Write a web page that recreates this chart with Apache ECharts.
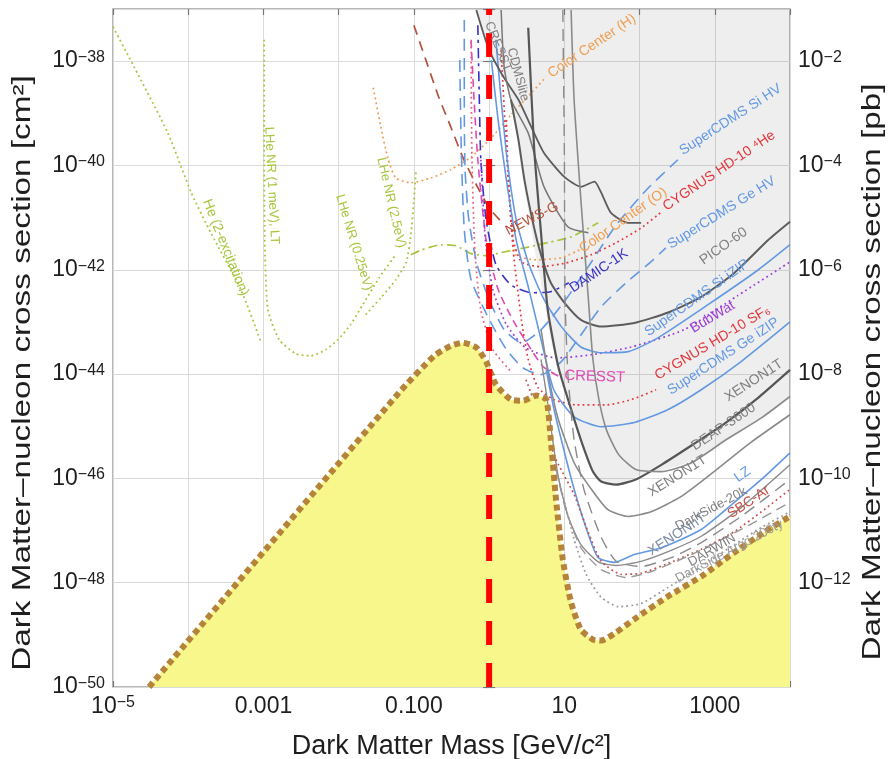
<!DOCTYPE html>
<html>
<head>
<meta charset="utf-8">
<script src="https://cdn.jsdelivr.net/npm/echarts@6/dist/echarts.min.js"></script>
<style>
  html, body { margin: 0; padding: 0; background: #fff; }
  #chart { width: 890px; height: 759px; }
</style>
</head>
<body>
<div id="chart"></div>
<script>
// every curve as [log10 mass (GeV), log10 sigma (cm^2)]
const neutrinoFog = [[-4.52,-50.0],[-1.20,-44.36],[-0.73,-43.65],[-0.51,-43.46],[-0.35,-43.40],[-0.17,-43.49],[-0.04,-43.76],[0.09,-44.20],[0.29,-44.49],[0.45,-44.51],[0.63,-44.41],[0.76,-44.49],[0.82,-45.26],[0.89,-46.41],[0.98,-47.56],[1.09,-48.38],[1.22,-48.90],[1.38,-49.09],[1.49,-49.11],[1.69,-48.95],[1.93,-48.70],[2.38,-48.26],[2.82,-47.88],[3.26,-47.42],[3.71,-46.98],[4.0,-46.73]];
const excludedEdge = [[-0.17,-37.0],[0.0,-37.79],[0.19,-38.30],[0.29,-38.74],[0.36,-39.32],[0.43,-40.08],[0.52,-40.85],[0.63,-41.81],[0.73,-42.57],[0.82,-43.34],[0.92,-43.92],[1.05,-44.49],[1.22,-45.26],[1.38,-45.83],[1.49,-46.06],[1.76,-46.10],[2.02,-45.93],[2.35,-45.83],[2.69,-45.66],[3.15,-45.26],[3.62,-44.84],[4.0,-44.43]];
const oneGeV = [[0, -50], [0, -37]];

const heTwoExc = [[-5.0,-37.34],[-4.72,-38.11],[-4.27,-39.38],[-3.96,-40.52],[-3.70,-41.29],[-3.30,-42.38],[-3.03,-43.40]];
const lheOneMeV = [[-2.99,-37.59],[-2.99,-39.70],[-2.98,-41.62],[-2.94,-42.77],[-2.79,-43.34],[-2.57,-43.61],[-2.37,-43.65],[-2.17,-43.53],[-2.01,-43.34],[-1.84,-43.05],[-1.68,-42.67],[-1.46,-42.15],[-1.24,-41.71]];
const lheTwoHalfEv = [[-1.64,-42.86],[-1.44,-42.54],[-1.24,-42.19],[-1.10,-41.85],[-1.04,-41.33],[-1.0,-40.66],[-0.97,-40.08]];
const greenDashDot = [[-1.04,-41.71],[-0.90,-41.62],[-0.64,-41.52],[-0.44,-41.54],[-0.24,-41.69],[-0.04,-41.73],[0.16,-41.67],[0.47,-41.58],[0.78,-41.48],[1.09,-41.37],[1.45,-41.10]];
const colorCenterH = [[-1.54,-38.51],[-1.44,-39.26],[-1.34,-39.89],[-1.24,-40.24],[-1.04,-40.33],[-0.77,-40.24],[-0.51,-40.08],[-0.24,-39.84],[0.03,-39.47],[0.29,-39.03],[0.56,-38.61],[0.76,-38.30]];
const colorCenterO = [[0.23,-39.70],[0.27,-40.47],[0.31,-41.23],[0.35,-41.71],[0.63,-41.81],[0.96,-41.77],[1.20,-41.62]];
const newsG = [[-1.0,-37.31],[-0.84,-37.98],[-0.68,-38.65],[-0.51,-39.26],[-0.35,-39.84],[-0.17,-40.37],[0.0,-40.81],[0.20,-41.14]];
const damic1k = [[-0.15,-37.31],[-0.13,-38.74],[-0.11,-39.89],[-0.04,-41.04],[0.09,-41.90],[0.29,-42.29],[0.56,-42.44],[0.82,-42.42],[1.06,-42.25]];
const cdmsSiHV = [[-0.33,-37.21],[-0.33,-38.74],[-0.32,-40.08],[-0.27,-41.04],[-0.16,-41.90],[0.0,-42.57],[0.20,-43.15],[0.43,-43.40],[0.69,-43.15],[1.02,-42.57],[1.36,-41.85],[1.69,-41.14],[2.09,-40.47],[2.51,-39.89]];
const cdmsGeHV = [[-0.39,-37.98],[-0.37,-39.70],[-0.33,-41.23],[-0.24,-42.19],[-0.01,-42.92],[0.23,-43.53],[0.45,-43.88],[0.69,-44.01],[0.96,-43.76],[1.22,-43.25],[1.49,-42.71],[1.82,-42.25],[2.15,-41.85],[2.35,-41.58]];
const cresstFuture = [[-0.24,-37.59],[-0.20,-38.74],[-0.15,-39.89],[-0.04,-41.43],[0.12,-42.38],[0.33,-43.00],[0.52,-43.44],[0.72,-43.86],[0.96,-44.07]];
const pinkDotted = [[-0.24,-37.63],[-0.23,-39.70],[-0.19,-41.62],[-0.11,-42.77],[0.05,-43.53],[0.29,-43.95]];
const cygnusHe = [[0.23,-39.13],[0.25,-40.08],[0.28,-40.85],[0.32,-41.43],[0.43,-41.85],[0.69,-41.94],[1.02,-41.87],[1.36,-41.71],[1.69,-41.48],[2.02,-41.20],[2.29,-40.89]];
const cygnusSF6 = [[0.16,-37.79],[0.23,-39.70],[0.32,-41.62],[0.43,-42.96],[0.52,-43.72],[0.65,-44.26],[0.86,-44.49],[1.16,-44.59],[1.56,-44.59],[1.89,-44.49],[2.22,-44.30]];
const bubWat = [[-0.11,-39.89],[-0.05,-41.43],[0.05,-42.38],[0.23,-43.05],[0.49,-43.50],[0.89,-43.69],[1.36,-43.63],[1.89,-43.48],[2.59,-43.15],[3.30,-42.50],[4.0,-41.85]];
const cdmsSiIZIP = [[0.09,-37.59],[0.16,-38.74],[0.24,-39.89],[0.36,-41.04],[0.53,-41.90],[0.73,-42.57],[0.96,-43.09],[1.22,-43.48],[1.49,-43.59],[1.85,-43.57],[2.25,-43.30],[2.91,-42.67],[3.58,-42.00],[4.0,-41.52]];
const cdmsGeIZIP = [[0.03,-37.98],[0.12,-39.13],[0.23,-40.28],[0.36,-41.43],[0.53,-42.38],[0.69,-43.34],[0.86,-44.30],[1.13,-44.82],[1.49,-45.01],[1.93,-44.93],[2.38,-44.68],[2.82,-44.30],[3.35,-43.76],[4.0,-43.00]];
const cresstLimit = [[-0.17,-37.02],[0.0,-37.79],[0.19,-38.30],[0.39,-38.74],[0.56,-39.26],[0.73,-39.76],[1.0,-40.22],[1.22,-40.41],[1.40,-40.31],[1.49,-40.52],[1.62,-40.91],[1.85,-41.10],[2.02,-41.10]];
const cdmsLite = [[0.16,-37.02],[0.20,-38.11],[0.29,-38.74],[0.52,-39.38],[0.73,-40.41],[1.05,-41.18],[1.32,-41.29]];
const pico60 = [[0.29,-38.74],[0.39,-39.51],[0.47,-40.28],[0.59,-41.14],[0.69,-41.71],[0.82,-42.25],[1.0,-42.63],[1.22,-42.96],[1.49,-43.09],[1.93,-43.02],[2.38,-42.82],[2.82,-42.52],[3.26,-42.06],[3.71,-41.43],[4.0,-41.08]];
const xenon1t = [[0.52,-37.36],[0.60,-39.70],[0.69,-41.29],[0.78,-42.77],[0.92,-43.86],[1.05,-44.49],[1.22,-45.26],[1.38,-45.87],[1.49,-46.06],[1.69,-46.12],[1.95,-46.02],[2.29,-45.74],[2.69,-45.37],[3.13,-44.95],[3.58,-44.45],[4.0,-43.92]];
const deap3600 = [[1.09,-37.02],[1.13,-38.74],[1.22,-40.66],[1.32,-42.57],[1.38,-43.72],[1.46,-44.49],[1.56,-45.07],[1.72,-45.54],[1.95,-45.83],[2.29,-45.87],[2.69,-45.70],[3.15,-45.26],[3.62,-44.84],[4.0,-44.43]];
const xenon1tB = [[0.69,-43.15],[0.80,-44.11],[0.92,-44.87],[1.13,-45.70],[1.36,-46.21],[1.58,-46.60],[1.85,-46.73],[2.15,-46.64],[2.55,-46.35],[2.99,-45.87],[3.48,-45.31],[4.0,-44.78]];
const xenonNT = [[0.69,-43.72],[0.76,-44.36],[0.82,-45.01],[0.92,-45.97],[1.05,-46.73],[1.22,-47.27],[1.45,-47.60],[1.69,-47.67],[2.02,-47.59],[2.42,-47.38],[2.82,-47.11],[3.35,-46.56],[4.0,-45.74]];
const lz = [[0.76,-43.92],[0.85,-44.59],[0.96,-45.26],[1.13,-46.21],[1.32,-47.08],[1.45,-47.52],[1.66,-47.61],[1.93,-47.46],[2.29,-47.33],[2.82,-46.98],[3.26,-46.46],[3.62,-46.02],[4.0,-45.51]];
const darkSide20k = [[0.98,-37.02],[1.0,-39.70],[1.01,-42.57],[1.05,-44.05],[1.13,-45.26],[1.26,-46.21],[1.49,-47.13],[1.69,-47.59],[2.02,-47.69],[2.42,-47.52],[2.82,-47.23],[3.35,-46.73],[4.0,-46.02]];
const sbcAr = [[0.49,-44.11],[0.69,-44.87],[0.89,-45.64],[1.13,-46.31],[1.32,-47.04],[1.49,-47.59],[1.76,-47.84],[2.02,-47.82],[2.38,-47.63],[2.82,-47.36],[3.26,-47.02],[3.62,-46.64],[4.0,-46.21]];
const darwin = [[0.89,-45.83],[1.02,-46.60],[1.22,-47.33],[1.49,-47.75],[1.82,-47.90],[2.15,-47.79],[2.69,-47.46],[3.35,-46.98],[4.0,-46.46]];
const argo = [[0.56,-44.36],[0.78,-45.26],[0.96,-46.21],[1.13,-47.17],[1.29,-47.84],[1.49,-48.28],[1.72,-48.46],[2.02,-48.40],[2.38,-48.09],[2.82,-47.69],[3.26,-47.27],[3.62,-46.94],[4.0,-46.64]];

// tick labels (axes run in decades)
const xLabelExps = [-5, -3, -1, 1, 3];
const xLabelTexts = [['10', '\u22125'], '0.001', '0.100', '10', '1000'];
const cmLabelExps = [-50, -48, -46, -44, -42, -40, -38];
const pbLabelExps = [-12, -10, -8, -6, -4, -2];

const FONT = '"Liberation Sans", Arial, Helvetica, sans-serif';
const INK = '#1e1e1e';
const GREEN = '#a6c63c', ORANGE = '#ef9d4f', BLUE = '#6398e3', RED = '#e5363c';
const GRAY = '#808080', DARK = '#5c5c5c', PURPLE = '#9b3fd6', DAMIC = '#3830c4';
const NEWSG = '#b4523c', MAGENTA = '#e04ab4', SBC = '#c8504a';

// text written along the curves: text, log10 mass, log10 sigma, angle (deg), colour, size
const curveLabels = [
  ['Color Center (H)', 0.80, -38.26, 34, ORANGE, 14],
  ['SuperCDMS Si HV', 2.55, -39.74, 33, BLUE, 14],
  ['CYGNUS HD\u201110 \u2074He', 2.33, -40.81, 34, RED, 14],
  ['SuperCDMS Ge HV', 2.39, -41.54, 32, BLUE, 14],
  ['NEWS\u2011G', 0.23, -41.27, 27, NEWSG, 14],
  ['Color Center (O)', 1.22, -41.62, 35, ORANGE, 14],
  ['DAMIC\u20111K', 1.09, -42.38, 34, DAMIC, 14],
  ['PICO\u201160', 2.82, -41.85, 35, GRAY, 14],
  ['SuperCDMS Si iZIP', 2.09, -43.22, 35, BLUE, 14],
  ['BubWat', 2.69, -43.15, 31, PURPLE, 14],
  ['CYGNUS HD\u201110 SF\u2086', 2.22, -44.05, 31, RED, 14],
  ['SuperCDMS Ge iZIP', 2.39, -44.34, 33, BLUE, 14],
  ['CRESST', 1.0, -44.03, -2, MAGENTA, 15],
  ['XENON1T', 3.15, -44.47, 33, GRAY, 14],
  ['DEAP\u20113600', 2.71, -45.41, 34, GRAY, 14],
  ['XENON1T', 2.13, -46.29, 32, GRAY, 14],
  ['LZ', 3.28, -46.02, 35, BLUE, 14],
  ['XENONnT', 2.13, -47.42, 33, '#7d8ca6', 14],
  ['DarkSide\u201120k', 2.49, -46.94, 28, GRAY, 13],
  ['SBC\u2011Ar', 3.19, -46.71, 34, SBC, 14],
  ['DARWIN', 2.66, -47.63, 30, GRAY, 13],
  ['DarkSide Argo 200ty', 2.49, -47.94, 28, '#9a9a9a', 13],
  ['CRESST', -0.01, -37.25, -68, GRAY, 13],
  ['CDMSlite', 0.29, -37.75, -75, GRAY, 13],
  ['He (2\u2011excitation)', -3.76, -40.66, -68, GREEN, 14],
  ['LHe NR (1 meV), LT', -2.93, -39.26, -87, GREEN, 13],
  ['LHe NR (0.25eV)', -1.99, -40.56, -73, GREEN, 13],
  ['LHe NR (2.5eV)', -1.44, -39.85, -77, GREEN, 13]
];

const DOT = [1.8, 3.2];

function curve(name, pts, color, width, type, z) {
  return {
    name, type: 'line', data: pts, symbol: 'none', smooth: 0.2,
    silent: true, animation: false, z: z || 3,
    lineStyle: { color, width, type: type || 'solid', cap: 'butt' }
  };
}

const supRich = {
  b: { fontSize: 23, fontFamily: FONT, color: INK },
  s: { fontSize: 16, fontFamily: FONT, color: INK, verticalAlign: 'top' },
  n: { fontSize: 23, fontFamily: FONT, color: INK }
};
const expLabel = e => '{b|10}{s|\u2212' + (-e) + '}';
const tickStyle = () => ({ inside: true, length: 6, lineStyle: { color: '#777', width: 1.2 } });

const chart = echarts.init(document.getElementById('chart'), null, { renderer: 'canvas', width: 890, height: 759 });

const option = {
  backgroundColor: '#ffffff',
  animation: false,
  grid: { left: 113, top: 9, right: 100, bottom: 72, show: true, borderColor: '#a0a0a0', borderWidth: 1.5, outerBoundsMode: 'none', containLabel: false },
  xAxis: [{
    type: 'value', min: -5, max: 4, interval: 1,
    name: '{t|Dark Matter Mass [GeV/}{i|c}{t|\u00b2]}', nameLocation: 'middle', nameGap: 46,
    nameTextStyle: {
      fontSize: 27, fontFamily: FONT, color: INK,
      rich: {
        t: { fontSize: 27, fontFamily: FONT, color: INK },
        i: { fontSize: 27, fontFamily: FONT, color: INK, fontStyle: 'italic' }
      }
    },
    axisLine: { show: false },
    axisTick: tickStyle(),
    axisLabel: {
      margin: 8, rich: supRich, showMinLabel: true, showMaxLabel: true,
      formatter: v => {
        const i = xLabelExps.indexOf(Math.round(v));
        if (i < 0) return '';
        const t = xLabelTexts[i];
        return Array.isArray(t) ? '{b|' + t[0] + '}{s|' + t[1] + '}' : '{n|' + t + '}';
      }
    },
    splitLine: { show: true, lineStyle: { color: '#dadada', width: 1 } }
  }, {
    type: 'value', min: -5, max: 4, interval: 1, position: 'top',
    axisLine: { show: false }, axisLabel: { show: false }, splitLine: { show: false },
    axisTick: tickStyle()
  }],
  yAxis: [{
    type: 'value', min: -50, max: -37, interval: 2,
    axisLine: { show: false },
    axisTick: tickStyle(),
    axisLabel: {
      margin: 8, rich: supRich, showMinLabel: true,
      formatter: v => cmLabelExps.indexOf(Math.round(v)) < 0 ? '' : expLabel(Math.round(v))
    },
    splitLine: { show: true, lineStyle: { color: '#dadada', width: 1 } }
  }, {
    type: 'value', min: -14, max: -1, interval: 2, position: 'right',
    axisLine: { show: false },
    axisTick: tickStyle(),
    axisLabel: {
      margin: 8, rich: supRich,
      formatter: v => pbLabelExps.indexOf(Math.round(v)) < 0 ? '' : expLabel(Math.round(v))
    },
    splitLine: { show: false }
  }],
  series: [
    {
      name: 'excluded', type: 'line', data: excludedEdge, symbol: 'none', smooth: 0.2,
      silent: true, z: 1, lineStyle: { width: 0 },
      areaStyle: { color: 'rgba(120,120,120,0.13)', origin: 'end', opacity: 1 }
    },
    curve('He (2-excitation)', heTwoExc, GREEN, 1.8, DOT),
    curve('LHe NR (1 meV)', lheOneMeV, GREEN, 1.8, DOT),
    curve('LHe NR (2.5eV)', lheTwoHalfEv, GREEN, 1.8, DOT),
    curve('green dash-dot', greenDashDot, GREEN, 1.7, [9, 4, 2, 4]),
    curve('Color Center (H)', colorCenterH, ORANGE, 1.7, DOT),
    curve('Color Center (O)', colorCenterO, ORANGE, 1.7, DOT),
    curve('NEWS-G', newsG, NEWSG, 1.7, [10, 7]),
    curve('DAMIC-1K', damic1k, DAMIC, 1.6, [10, 5, 3, 5]),
    curve('SuperCDMS Si HV', cdmsSiHV, BLUE, 1.6, [12, 7]),
    curve('SuperCDMS Ge HV', cdmsGeHV, BLUE, 1.6, [12, 7]),
    curve('CRESST future', cresstFuture, MAGENTA, 1.6, [8, 5]),
    curve('pink dotted', pinkDotted, '#e8607c', 1.7, DOT),
    curve('CYGNUS 4He', cygnusHe, RED, 1.7, DOT),
    curve('CYGNUS SF6', cygnusSF6, RED, 1.7, DOT),
    curve('BubWat', bubWat, PURPLE, 1.7, DOT),
    curve('SuperCDMS Si iZIP', cdmsSiIZIP, BLUE, 1.6),
    curve('SuperCDMS Ge iZIP', cdmsGeIZIP, BLUE, 1.6),
    curve('CRESST', cresstLimit, DARK, 1.8),
    curve('CDMSlite', cdmsLite, '#777777', 1.5),
    curve('PICO-60', pico60, DARK, 2),
    curve('XENON1T', xenon1t, '#555555', 2.2),
    curve('DEAP-3600', deap3600, '#8a8a8a', 1.6),
    curve('XENON1T b', xenon1tB, '#8a8a8a', 1.6),
    curve('XENONnT', xenonNT, '#8a8a8a', 1.4),
    curve('LZ', lz, BLUE, 1.6),
    curve('DarkSide-20k', darkSide20k, '#8a8a8a', 1.4, [12, 7]),
    curve('SBC-Ar', sbcAr, SBC, 1.7, DOT),
    curve('DARWIN', darwin, '#999999', 1.4, [10, 6]),
    curve('DarkSide Argo', argo, '#999999', 1.7, DOT),
    {
      name: 'neutrino fog', type: 'line', data: neutrinoFog, symbol: 'none', smooth: 0.2,
      silent: true, z: 5,
      lineStyle: { color: '#b5843a', width: 6, type: [6, 4] },
      areaStyle: { color: '#f7f78c', origin: 'start', opacity: 1 }
    },
    {
      name: '1 GeV', type: 'line', data: oneGeV, symbol: 'none', silent: true, z: 6,
      lineStyle: { color: '#ff0000', width: 6, type: [24, 18] }
    }
  ]
};

chart.setOption(option);

const graphics = curveLabels.map(([text, m, s, deg, color, size]) => {
  const [x, y] = chart.convertToPixel({ xAxisIndex: 0, yAxisIndex: 0 }, [m, s]);
  return {
    type: 'text', x, y, rotation: deg * Math.PI / 180, z: 10, silent: true,
    style: { text, fill: color, font: size + 'px ' + FONT, align: 'left', verticalAlign: 'middle' }
  };
});

// vertical axis titles, drawn stretched along their length as in the original figure
const titleText = (text, x, y) => ({
  type: 'text', x, y, rotation: Math.PI / 2, scaleX: 1.28, z: 10, silent: true,
  style: { text, fill: INK, font: '26px ' + FONT, align: 'center', verticalAlign: 'middle' }
});
graphics.push(titleText('Dark Matter\u2013nucleon cross section [cm\u00b2]', 23, 373));
graphics.push(titleText('Dark Matter\u2013nucleon cross section [pb]', 873, 372));

chart.setOption({ graphic: graphics });
</script>
</body>
</html>
